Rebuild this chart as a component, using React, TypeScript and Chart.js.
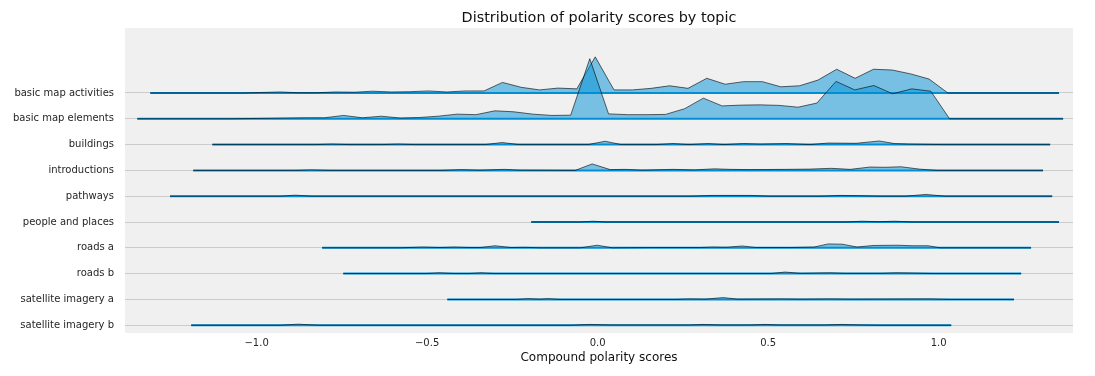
import React, { useEffect, useRef } from "react";
import { Chart, registerables } from "chart.js";

Chart.register(...registerables);

const titleText = "Distribution of polarity scores by topic";

const topics = [
  "basic map activities",
  "basic map elements",
  "buildings",
  "introductions",
  "pathways",
  "people and places",
  "roads a",
  "roads b",
  "satellite imagery a",
  "satellite imagery b",
];

const xTicks = [-1.0, -0.5, 0.0, 0.5, 1.0];

// Compound polarity score nodes and density heights (in row units) per topic
const basicMapActivitiesX = [-1.312, -1.04, -0.986, -0.931, -0.877, -0.823, -0.768, -0.714, -0.66, -0.605, -0.551, -0.496, -0.442, -0.387, -0.333, -0.279, -0.224, -0.17, -0.116, -0.061, -0.007, 0.048, 0.102, 0.157, 0.211, 0.265, 0.32, 0.374, 0.428, 0.483, 0.537, 0.592, 0.646, 0.701, 0.755, 0.809, 0.864, 0.918, 0.972, 1.027, 1.353];
const basicMapActivitiesD = [0, 0, 0.02, 0.04, 0.01, 0.01, 0.04, 0.03, 0.07, 0.04, 0.05, 0.08, 0.04, 0.08, 0.08, 0.41, 0.22, 0.12, 0.19, 0.16, 1.4, 0.12, 0.12, 0.18, 0.28, 0.18, 0.57, 0.34, 0.44, 0.44, 0.24, 0.28, 0.5, 0.92, 0.57, 0.92, 0.89, 0.74, 0.54, 0, 0];

const basicMapElementsX = [-1.35, -1.079, -1.023, -0.967, -0.912, -0.856, -0.801, -0.745, -0.69, -0.634, -0.579, -0.523, -0.468, -0.412, -0.357, -0.301, -0.245, -0.19, -0.134, -0.079, -0.023, 0.032, 0.088, 0.143, 0.199, 0.255, 0.31, 0.365, 0.421, 0.477, 0.532, 0.588, 0.643, 0.699, 0.754, 0.81, 0.865, 0.921, 0.977, 1.032, 1.365];
const basicMapElementsD = [0, 0, 0.01, 0.02, 0.03, 0.04, 0.04, 0.13, 0.04, 0.1, 0.03, 0.05, 0.1, 0.18, 0.16, 0.31, 0.27, 0.18, 0.13, 0.14, 2.33, 0.19, 0.16, 0.16, 0.17, 0.39, 0.8, 0.5, 0.53, 0.54, 0.52, 0.45, 0.61, 1.45, 1.12, 1.29, 0.97, 1.16, 1.07, 0, 0];

const buildingsX = [-1.13, -0.828, -0.779, -0.726, -0.635, -0.585, -0.535, -0.33, -0.28, -0.23, -0.028, 0.022, 0.069, 0.171, 0.221, 0.268, 0.324, 0.371, 0.427, 0.477, 0.553, 0.623, 0.676, 0.758, 0.826, 0.87, 0.911, 1.013, 1.327];
const buildingsD = [0, 0, 0.02, 0, 0, 0.02, 0, 0, 0.08, 0, 0, 0.13, 0, 0, 0.04, 0, 0.04, 0, 0.04, 0.02, 0.04, 0, 0.06, 0.05, 0.14, 0.04, 0.02, 0, 0];

const introductionsX = [-1.186, -0.887, -0.84, -0.785, -0.462, -0.4, -0.345, -0.274, -0.227, -0.066, -0.016, 0.037, 0.081, 0.13, 0.221, 0.283, 0.342, 0.389, 0.447, 0.553, 0.623, 0.685, 0.741, 0.799, 0.843, 0.89, 0.943, 0.996, 1.306];
const introductionsD = [0, 0, 0.02, 0, 0, 0.03, 0.01, 0.04, 0.01, 0, 0.25, 0.03, 0.04, 0.01, 0.04, 0.02, 0.06, 0.04, 0.03, 0.04, 0.05, 0.08, 0.04, 0.13, 0.12, 0.14, 0.05, 0, 0];

const pathwaysX = [-1.254, -0.931, -0.887, -0.837, 0.271, 0.336, 0.447, 0.506, 0.652, 0.711, 0.77, 0.828, 0.902, 0.963, 1.019, 1.333];
const pathwaysD = [0, 0, 0.04, 0, 0, 0.03, 0.03, 0, 0, 0.03, 0.02, 0, 0, 0.07, 0, 0];

const peopleAndPlacesX = [-0.195, -0.051, -0.013, 0.025, 0.726, 0.776, 0.823, 0.872, 0.922, 1.353];
const peopleAndPlacesD = [0, 0, 0.03, 0, 0, 0.03, 0.01, 0.03, 0, 0];

const roadsAX = [-0.808, -0.579, -0.512, -0.462, -0.421, -0.374, -0.345, -0.301, -0.254, -0.213, -0.169, -0.051, -0.001, 0.043, 0.154, 0.301, 0.336, 0.377, 0.424, 0.465, 0.565, 0.635, 0.676, 0.717, 0.761, 0.808, 0.881, 0.922, 0.969, 1.004, 1.271];
const roadsAD = [0, 0, 0.03, 0.01, 0.03, 0.01, 0.01, 0.08, 0.01, 0.02, 0, 0, 0.1, 0, 0.01, 0.01, 0.03, 0.02, 0.07, 0.01, 0.01, 0.03, 0.15, 0.14, 0.03, 0.09, 0.1, 0.08, 0.08, 0, 0];

const roadsBX = [-0.746, -0.506, -0.465, -0.418, -0.38, -0.342, -0.301, 0.506, 0.55, 0.594, 0.682, 0.726, 0.828, 0.875, 0.922, 0.99, 1.242];
const roadsBD = [0, 0, 0.03, 0, 0, 0.03, 0, 0, 0.06, 0.01, 0.03, 0.01, 0.01, 0.03, 0.02, 0, 0];

const satelliteAX = [-0.441, -0.242, -0.204, -0.169, -0.145, -0.11, 0.227, 0.268, 0.315, 0.368, 0.412, 0.538, 0.594, 0.682, 0.741, 0.972, 1.034, 1.221];
const satelliteAD = [0, 0, 0.03, 0.01, 0.03, 0, 0, 0.02, 0.01, 0.07, 0.01, 0.02, 0.01, 0.02, 0.01, 0.02, 0, 0];

const satelliteBX = [-1.192, -0.931, -0.878, -0.82, -0.081, -0.022, 0.037, 0.271, 0.309, 0.359, 0.447, 0.491, 0.535, 0.667, 0.717, 0.77, 0.828, 1.037];
const satelliteBD = [0, 0, 0.04, 0, 0, 0.03, 0.01, 0.01, 0.03, 0.01, 0.01, 0.03, 0.01, 0.01, 0.03, 0.01, 0, 0];

const rowXs = [basicMapActivitiesX, basicMapElementsX, buildingsX, introductionsX, pathwaysX, peopleAndPlacesX, roadsAX, roadsBX, satelliteAX, satelliteBX];
const rowDs = [basicMapActivitiesD, basicMapElementsD, buildingsD, introductionsD, pathwaysD, peopleAndPlacesD, roadsAD, roadsBD, satelliteAD, satelliteBD];

const FILL = "rgba(0,143,213,0.5)";
const EDGE = "rgba(0,0,0,0.6)";
const BASE = "#008fd5";

const bgPlugin = {
  id: "plotBg",
  beforeDraw(chart: any) {
    const { ctx, chartArea } = chart;
    ctx.save();
    ctx.fillStyle = "#f0f0f0";
    ctx.fillRect(chartArea.left, chartArea.top, chartArea.right - chartArea.left, chartArea.bottom - chartArea.top);
    ctx.restore();
  },
  afterDraw(chart: any) {
    const { ctx, chartArea } = chart;
    ctx.save();
    ctx.fillStyle = "#111";
    ctx.font = "14.4px 'DejaVu Sans'";
    ctx.textAlign = "center";
    ctx.textBaseline = "middle";
    ctx.fillText(titleText, (chartArea.left + chartArea.right) / 2, 18.6);
    ctx.restore();
  },
};

export default function App() {
  const ref = useRef<HTMLCanvasElement | null>(null);

  useEffect(() => {
    if (!ref.current) return;
    const n = topics.length;
    const datasets: any[] = [];
    topics.forEach((name, r) => {
      const offset = n - 1 - r;
      const xs = rowXs[r];
      const ds = rowDs[r];
      datasets.push({
        label: name + " base",
        data: [
          { x: xs[0], y: offset },
          { x: xs[xs.length - 1], y: offset },
        ],
        borderColor: BASE,
        borderWidth: 2,
        pointRadius: 0,
        fill: false,
        order: 2 * (n - 1 - r) + 1,
      });
      datasets.push({
        label: name,
        data: xs.map((x, i) => ({ x, y: offset + ds[i] })),
        borderColor: EDGE,
        borderWidth: 1,
        backgroundColor: FILL,
        pointRadius: 0,
        tension: 0,
        fill: { value: offset },
        order: 2 * (n - 1 - r),
      });
    });

    const chart = new Chart(ref.current, {
      type: "line",
      data: { datasets },
      plugins: [bgPlugin],
      options: {
        animation: false,
        responsive: false,
        devicePixelRatio: 1,
        layout: { padding: { left: 0, right: 22, top: 28, bottom: 0 } },
        plugins: {
          legend: { display: false },
          tooltip: { enabled: false },
          title: { display: false },
        },
        scales: {
          x: {
            type: "linear",
            min: -1.386,
            max: 1.394,
            grid: { display: false, drawTicks: false },
            border: { display: false },
            afterBuildTicks: (scale: any) => {
              scale.ticks = xTicks.map((v) => ({ value: v }));
            },
            afterFit: (scale: any) => {
              scale.height = 43;
            },
            ticks: {
              color: "#262626",
              font: { family: "DejaVu Sans", size: 10 },
              padding: 4,
              maxRotation: 0,
              callback: (v: any) => (Number(v) < 0 ? "\u2212" : "") + Math.abs(Number(v)).toFixed(1),
            },
            title: {
              display: true,
              text: "Compound polarity scores",
              color: "#111",
              font: { family: "DejaVu Sans", size: 12 },
              padding: { top: 0, bottom: 10.8 },
            },
          },
          y: {
            type: "linear",
            min: -0.302,
            max: 11.519,
            grid: { color: "#cbcbcb", lineWidth: 1, drawTicks: false },
            border: { display: false },
            afterBuildTicks: (scale: any) => {
              scale.ticks = topics.map((_, i) => ({ value: i }));
            },
            afterFit: (scale: any) => {
              scale.width = 125;
            },
            ticks: {
              color: "#262626",
              font: { family: "DejaVu Sans", size: 10 },
              padding: 11,
              callback: (v: any) => topics[topics.length - 1 - Number(v)],
            },
          },
        },
      },
    });
    return () => chart.destroy();
  }, []);

  return (
    <div style={{ position: "fixed", left: 0, top: 0, width: 1095, height: 376, background: "#fff" }}>
      <canvas ref={ref} width={1095} height={376} />
    </div>
  );
}
